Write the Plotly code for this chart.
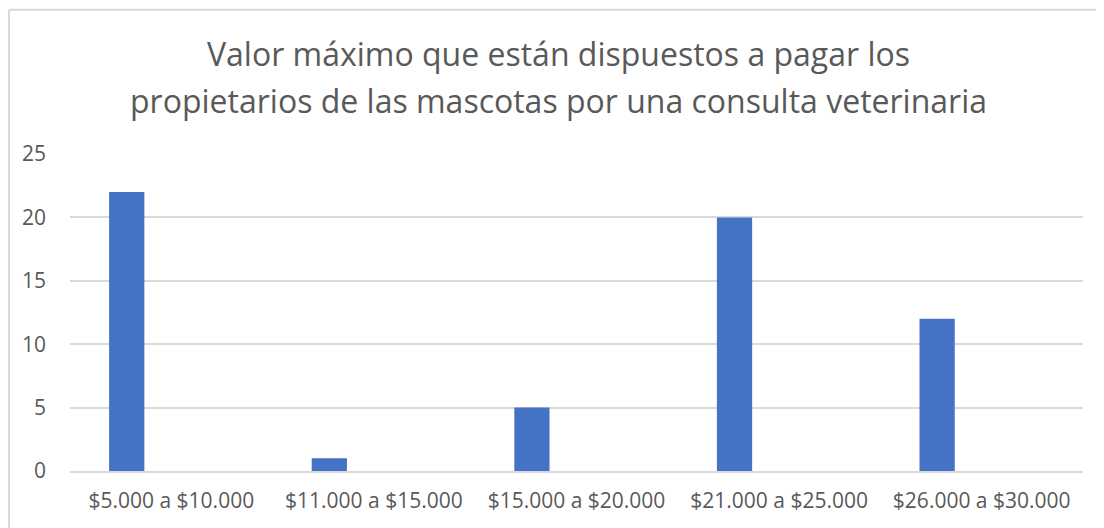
import plotly.graph_objects as go

# data
categorias = ["$5.000 a $10.000", "$11.000 a $15.000", "$15.000 a $20.000",
              "$21.000 a $25.000", "$26.000 a $30.000"]
valores = [22, 1, 5, 20, 12]
y_ticks = [0, 5, 10, 15, 20, 25]

titulo_1 = "Valor máximo que están dispuestos a pagar los"
titulo_2 = "propietarios de las mascotas por una consulta veterinaria"

gris = "#595959"

fig = go.Figure()
fig.add_trace(go.Bar(
    x=categorias, y=valores,
    width=0.174, offset=-0.307,
    marker=dict(color="#4472C4", line=dict(width=0)),
))

fig.update_layout(
    width=1104, height=528,
    margin=dict(l=62, r=29, t=146, b=65),
    paper_bgcolor="white", plot_bgcolor="white",
    showlegend=False,
    font=dict(family="Open Sans", color=gris, size=21),
    xaxis=dict(showgrid=False, showline=True, linecolor="#D9D9D9", linewidth=1.5,
               ticks="", tickfont=dict(size=21, color=gris), ticklabelstandoff=10),
    yaxis=dict(range=[0, 25], tickvals=y_ticks, showgrid=True, gridcolor="#D9D9D9",
               gridwidth=1.5, zeroline=False, showline=False, ticks="",
               tickfont=dict(size=21, color=gris), ticklabelstandoff=23),
    shapes=[
        dict(type="line", xref="paper", yref="paper", x0=-0.0602, x1=-0.0602,
             y0=1.455, y1=-0.2, line=dict(color="#D9D9D9", width=2)),
        dict(type="line", xref="paper", yref="paper", x0=-0.0602, x1=1.03,
             y0=1.455, y1=1.455, line=dict(color="#D9D9D9", width=2)),
    ],
)

# title in two lines, placed separately to match the line spacing
for texto, ypos in [(titulo_1, 1.3186), (titulo_2, 1.1703)]:
    fig.add_annotation(text=texto, xref="paper", yref="paper", x=0.4827, y=ypos,
                       xanchor="center", yanchor="middle", showarrow=False,
                       font=dict(size=32, color=gris))

fig.write_html("out.html")
